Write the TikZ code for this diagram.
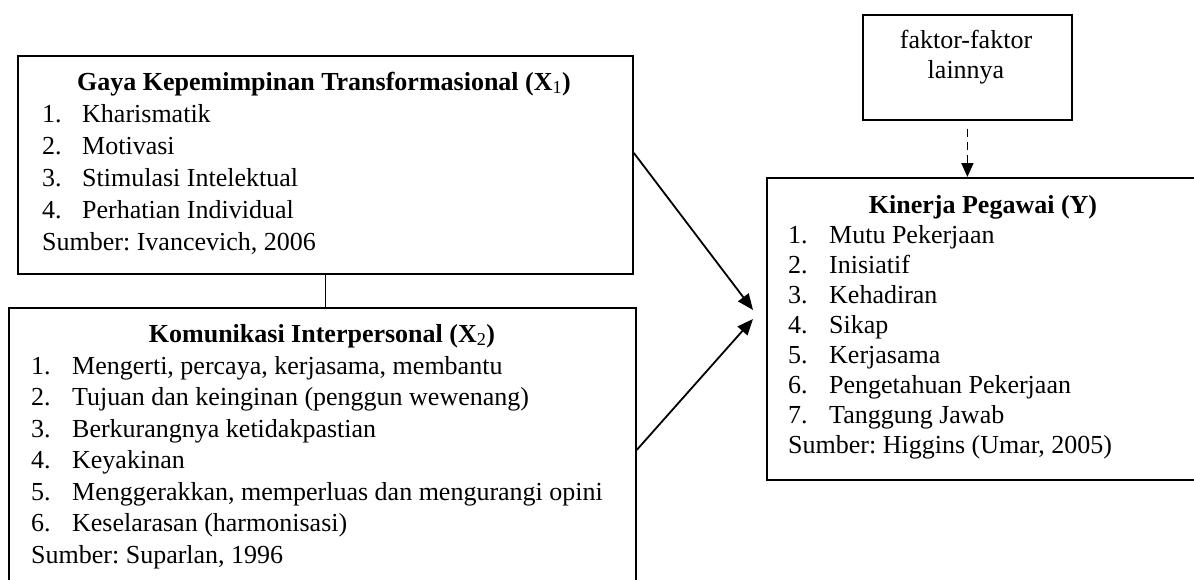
\documentclass[tikz,border=0pt]{standalone}
\usepackage{fontspec}
\setmainfont{Liberation Serif}
\usetikzlibrary{arrows.meta}
\frenchspacing

\begin{document}
\begin{tikzpicture}[x=1pt,y=-1pt,
    box/.style={draw,line width=1.8pt,anchor=north west,inner sep=0pt},
    txt/.style={inner sep=0pt,font=\fontsize{26}{30}\selectfont},
    arr/.style={line width=1.8pt,-{Triangle[length=16pt,width=13pt]}}]
    \useasboundingbox (0,0) rectangle (1194,579);
    \clip (0,0) rectangle (1194,579);

    % boxes
    \node[box,minimum width=615,minimum height=218] (x1) at (17,55) {};
    \node[box,minimum width=627,minimum height=300] (x2) at (8,307) {};
    \node[box,minimum width=209,minimum height=105] (faktor) at (862,14) {};
    \node[box,minimum width=434,minimum height=302] (y) at (766,177) {};

    % texts
    \node[txt,anchor=base] (x1title) at (324,90) {\textbf{Gaya Kepemimpinan Transformasional (X\textsubscript{\mdseries 1})}};
    \node[txt,anchor=base west,font=\fontsize{26}{32}\selectfont] (x1list) at (42,122) {\begin{tabular}[t]{@{}p{40pt}@{}l@{}}
        1. & Kharismatik\\
        2. & Motivasi\\
        3. & Stimulasi Intelektual\\
        4. & Perhatian Individual\\
        \multicolumn{2}{@{}l@{}}{Sumber: Ivancevich, 2006}
    \end{tabular}};

    \node[txt,anchor=base] (x2title) at (322,342) {\textbf{Komunikasi Interpersonal (X\textsubscript{\mdseries 2})}};
    \node[txt,anchor=base west,font=\fontsize{26}{31.5}\selectfont] (x2list) at (31,374) {\begin{tabular}[t]{@{}p{41pt}@{}l@{}}
        1. & Mengerti, percaya, kerjasama, membantu\\
        2. & Tujuan dan keinginan (penggun wewenang)\\
        3. & Berkurangnya ketidakpastian\\
        4. & Keyakinan\\
        5. & Menggerakkan, memperluas dan mengurangi opini\\
        6. & Keselarasan (harmonisasi)\\
        \multicolumn{2}{@{}l@{}}{Sumber: Suparlan, 1996}
    \end{tabular}};

    \node[txt,anchor=base] (faktortext) at (966,48) {\begin{tabular}[t]{@{}c@{}}faktor-faktor\\ lainnya\end{tabular}};

    \node[txt,anchor=base] (ytitle) at (983,213) {\textbf{Kinerja Pegawai (Y)}};
    \node[txt,anchor=base west] (ylist) at (788,243) {\begin{tabular}[t]{@{}p{41pt}@{}l@{}}
        1. & Mutu Pekerjaan\\
        2. & Inisiatif\\
        3. & Kehadiran\\
        4. & Sikap\\
        5. & Kerjasama\\
        6. & Pengetahuan Pekerjaan\\
        7. & Tanggung Jawab\\
        \multicolumn{2}{@{}l@{}}{Sumber: Higgins (Umar, 2005)}
    \end{tabular}};

    % connectors
    \coordinate (tip1) at (753,310);
    \coordinate (tip2) at (753,319);
    \draw[line width=1.8pt] (x1.south) -- (x1.south |- x2.north);
    \draw[arr] ([yshift=12pt]x1.east) -- (tip1);
    \draw[arr] ([yshift=8pt]x2.east) -- (tip2);
    \draw[line width=1.8pt,dash pattern=on 8pt off 5pt,shorten <=8pt,-{Triangle[length=14pt,width=12pt]}] (faktor.south) -- (faktor.south |- y.north);
\end{tikzpicture}
\end{document}
